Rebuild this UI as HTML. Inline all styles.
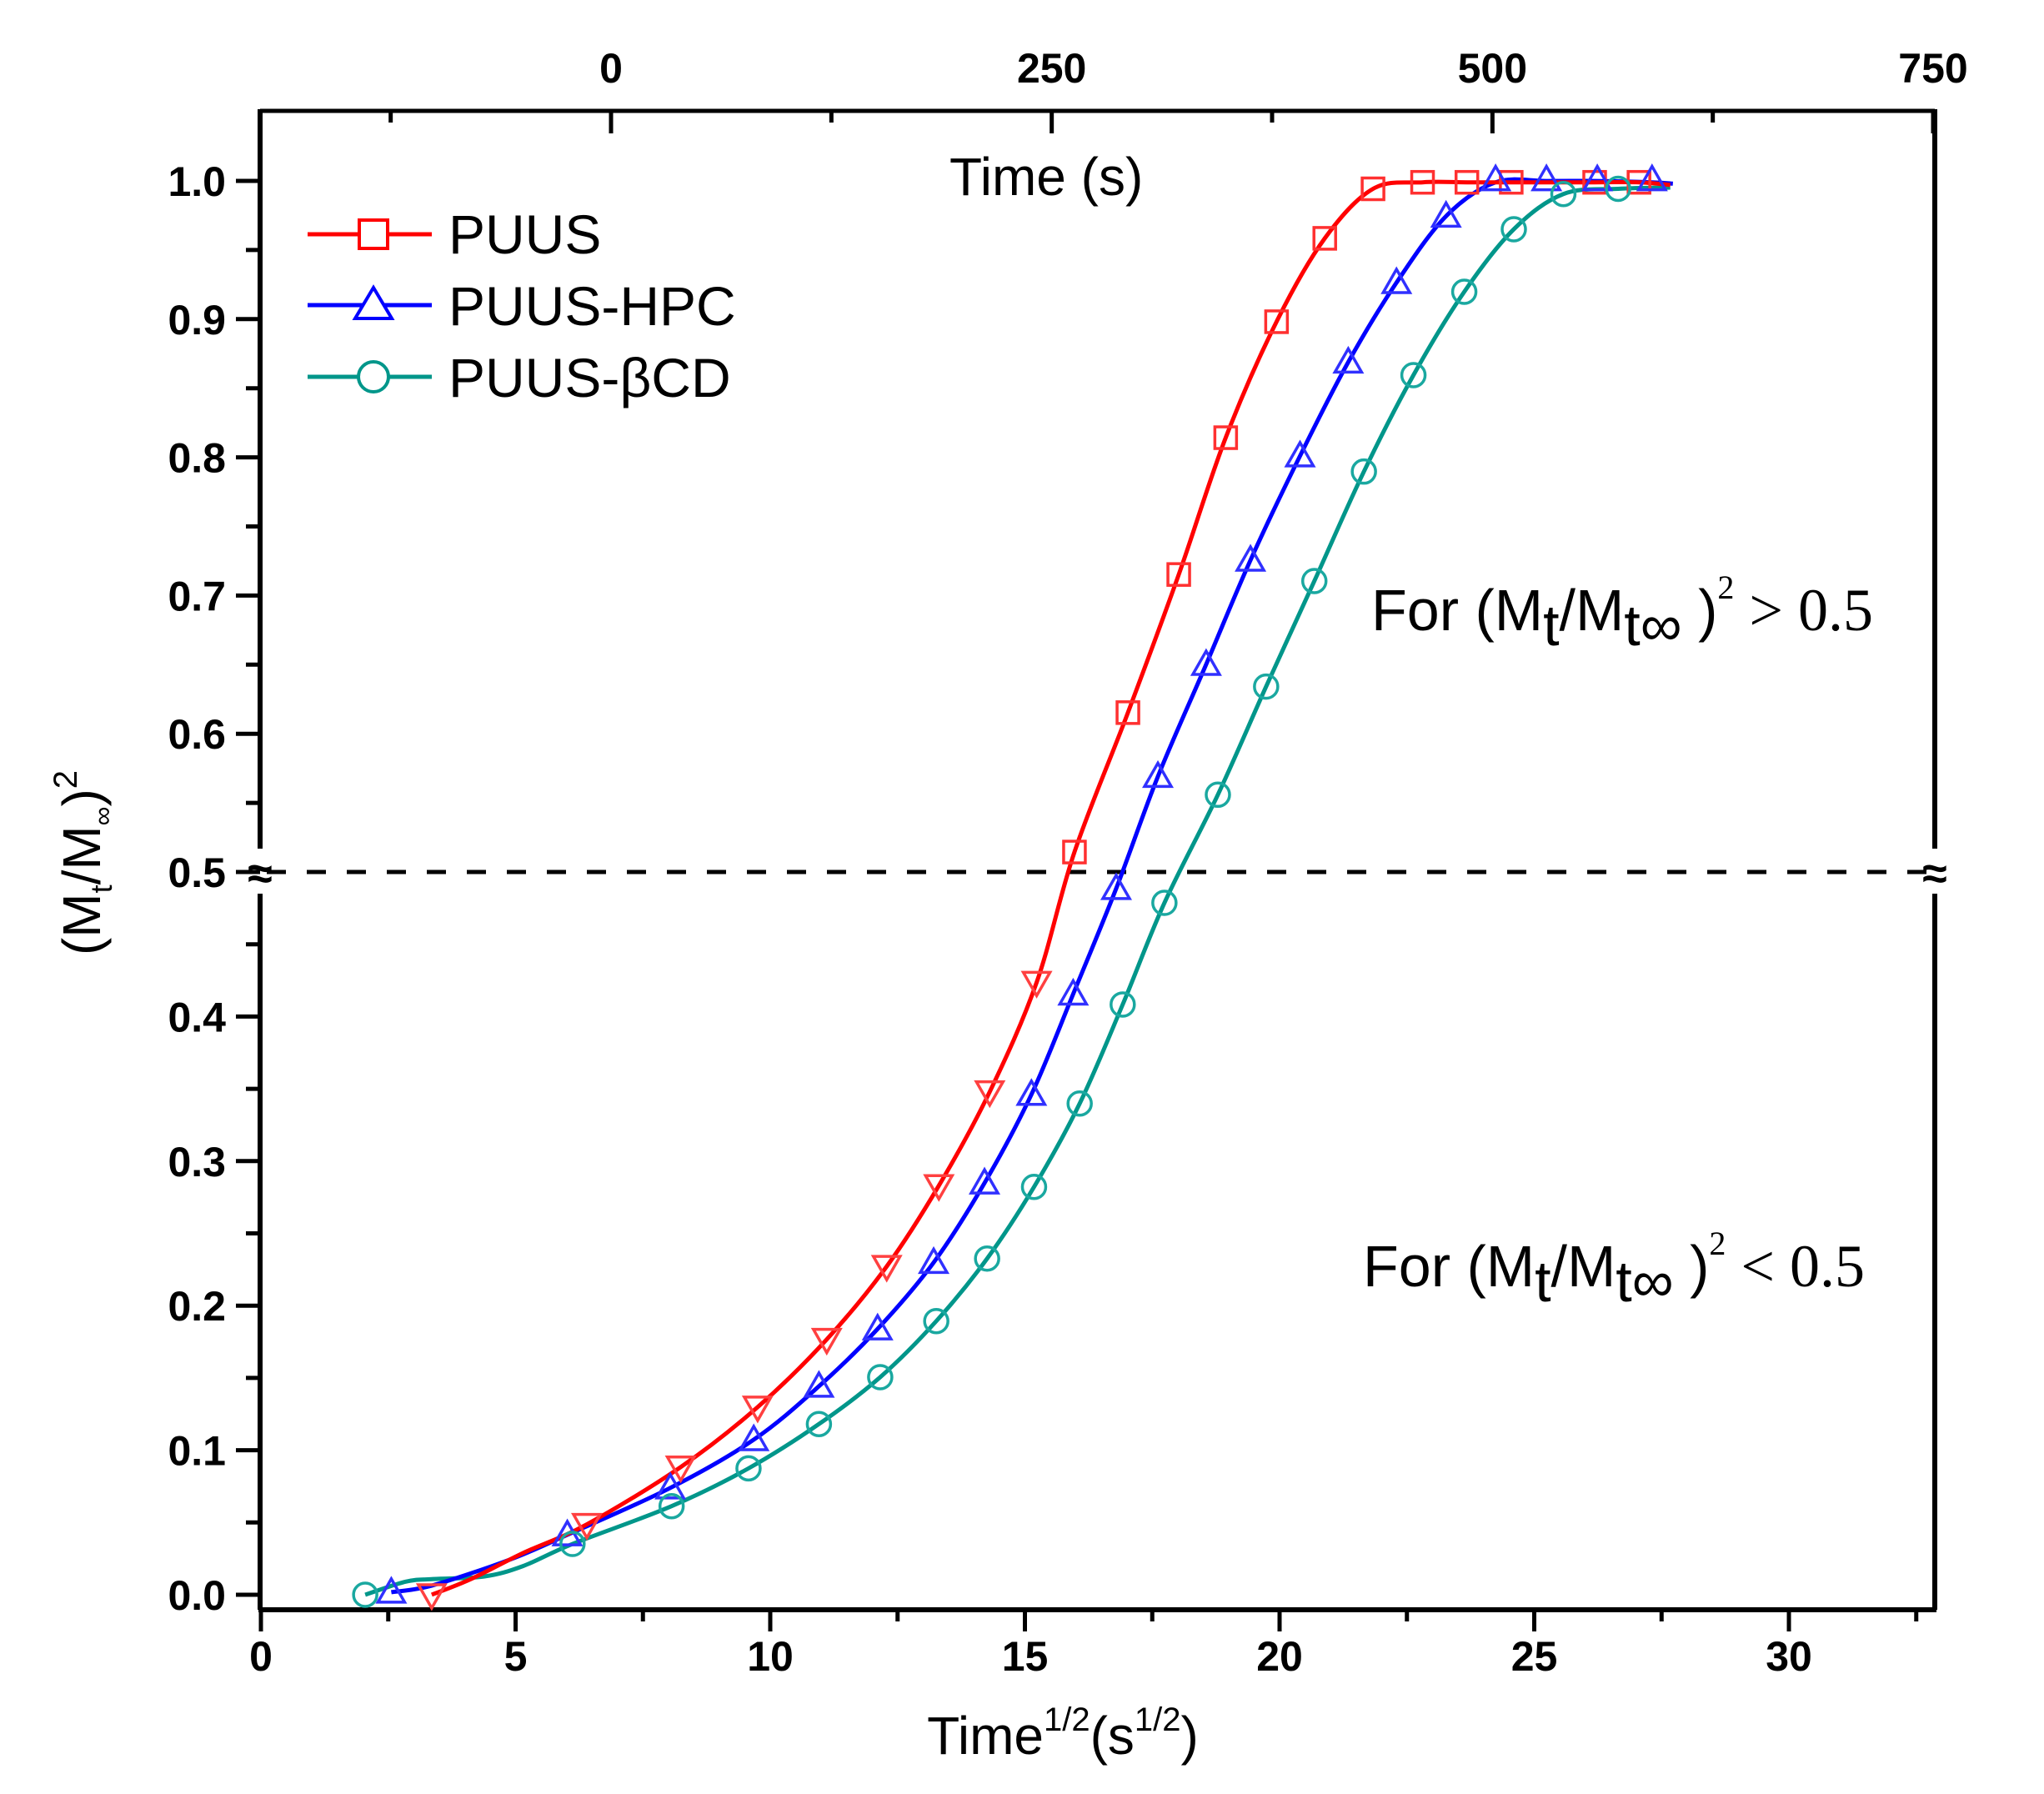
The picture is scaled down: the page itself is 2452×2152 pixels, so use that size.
<!DOCTYPE html>
<html><head><meta charset="utf-8"><style>
html,body{margin:0;padding:0;background:#fff}
svg{display:block}
text{font-family:"Liberation Sans",Arial,sans-serif}
</style></head><body>
<svg id="s" width="2452" height="2152" viewBox="0 0 2452 2152" xmlns="http://www.w3.org/2000/svg">
<rect width="2452" height="2152" fill="#fff"/>
<g id="g"></g>
<text x="1275" y="2104" font-size="64" text-anchor="middle">Time<tspan font-size="40" dy="-28">1/2</tspan><tspan dy="28">(s</tspan><tspan font-size="40" dy="-28">1/2</tspan><tspan dy="28">)</tspan></text>
<text x="1139" y="234" font-size="64">Time (s)</text>
<g transform="translate(120,1035) rotate(-90)"><text x="0" y="0" font-size="64" text-anchor="middle">(M<tspan font-size="36" dy="14">t</tspan><tspan dy="-14">/M</tspan><tspan font-size="32" dy="14">∞</tspan><tspan dy="-14">)</tspan><tspan font-size="40" dy="-28">2</tspan></text></g>
<text x="538" y="304" font-size="66">PUUS</text>
<text x="538" y="390" font-size="66">PUUS-HPC</text>
<text x="538" y="476" font-size="66">PUUS-βCD</text>
<text x="1645" y="756" font-size="70">For (M<tspan dy="18">t</tspan><tspan dy="-18">/M</tspan><tspan dy="18">t∞</tspan><tspan dy="-18"> )</tspan><tspan font-family="Liberation Serif,serif" font-size="40" dy="-38">2</tspan><tspan font-family="Liberation Serif,serif" font-size="72" dy="38"> &gt; 0.5</tspan></text>
<text x="1635" y="1543" font-size="70">For (M<tspan dy="18">t</tspan><tspan dy="-18">/M</tspan><tspan dy="18">t∞</tspan><tspan dy="-18"> )</tspan><tspan font-family="Liberation Serif,serif" font-size="40" dy="-38">2</tspan><tspan font-family="Liberation Serif,serif" font-size="72" dy="38"> &lt; 0.5</tspan></text>
</svg>
<script>
const NS="http://www.w3.org/2000/svg",g=document.getElementById('g');
function el(t,a,p){const e=document.createElementNS(NS,t);for(const k in a)e.setAttribute(k,a[k]);(p||g).appendChild(e);return e;}
const L=312,R=2321,T=133,B=1931;
function yv(v){return v>=0.5?1046-(v-0.5)*1658:1046+(0.5-v)*1734;}
function xv(v){return 313+v*61.1;}
el('line',{x1:L,y1:T,x2:R,y2:T,stroke:'#000','stroke-width':5});
el('line',{x1:L-2,y1:B,x2:R+2,y2:B,stroke:'#000','stroke-width':6});
el('line',{x1:L,y1:T-2,x2:L,y2:1018,stroke:'#000','stroke-width':6});
el('line',{x1:L,y1:1072,x2:L,y2:B,stroke:'#000','stroke-width':6});
el('line',{x1:R,y1:T-2,x2:R,y2:1018,stroke:'#000','stroke-width':6});
el('line',{x1:R,y1:1072,x2:R,y2:B,stroke:'#000','stroke-width':6});
[L,R].forEach(x=>{const t=el('text',{x:x,y:1066,'font-size':54,'text-anchor':'middle','font-weight':'bold'});t.textContent='≈';});
el('line',{x1:L+8,y1:1046,x2:R-8,y2:1046,stroke:'#000','stroke-width':5,'stroke-dasharray':'23 25'});
for(let i=0;i<=20;i++){const v=i*0.05,y=yv(v),maj=i%2==0;
 el('line',{x1:L-(maj?29:17),y1:y,x2:L,y2:y,stroke:'#000','stroke-width':5});
 if(maj){const t=el('text',{x:271,y:y+18,'font-size':50,'font-weight':'bold','text-anchor':'end'});t.textContent=(v).toFixed(1);}}
for(let i=0;i<=13;i++){const v=i*2.5,x=xv(v),maj=i%2==0;
 el('line',{x1:x,y1:B,x2:x,y2:B+(maj?26:14),stroke:'#000','stroke-width':5});
 if(maj){const t=el('text',{x:x,y:2004,'font-size':50,'font-weight':'bold','text-anchor':'middle'});t.textContent=v;}}
const tx=v=>733+v*(2319-733)/750;
for(let i=-1;i<=6;i++){const v=i*125,x=tx(v),maj=i%2==0;
 el('line',{x1:x,y1:T,x2:x,y2:T+(maj?27:14),stroke:'#000','stroke-width':5});
 if(maj){const t=el('text',{x:x,y:99,'font-size':50,'font-weight':'bold','text-anchor':'middle'});t.textContent=v;}}
const X=d=>313+(d-199)*1.564, Y=d=>1.563*d+3;
const red=[[330,1222],[360,1210],[400,1190],[449,1168],[521,1124],[580,1078],[633,1026],[679,970],[719,908],[758,836],[794,752],[823,652],[864,545],[903,439],[939,334],[978,245],[1015,181],[1052,143],[1090,138],[1124,138],[1158,138],[1222,138],[1256,138],[1280,140]];
const blue=[[299,1220],[330,1215],[390,1195],[434,1176],[513,1140],[577,1103],[627,1062],[672,1018],[715,967],[754,906],[790,838],[822,761],[855,680],[887,594],[924,508],[958,428],[996,348],[1033,276],[1070,215],[1108,164],[1146,138],[1185,137],[1224,137],[1266,138],[1282,139]];
const teal=[[279,1222],[310,1212],[330,1210],[370,1208],[400,1200],[438,1183],[514,1154],[573,1125],[627,1091],[674,1055],[717,1012],[756,964],[792,909],[827,845],[860,769],[892,691],[933,608],[970,525],[1007,444],[1045,360],[1083,286],[1122,222],[1160,174],[1198,147],[1240,143],[1280,142]];
function path(pts,c){const P=pts.map(p=>[X(p[0]),Y(p[1])]);let d=`M${P[0][0]},${P[0][1]}`;
 for(let i=0;i<P.length-1;i++){const p0=P[Math.max(i-1,0)],p1=P[i],p2=P[i+1],p3=P[Math.min(i+2,P.length-1)];
  d+=` C${p1[0]+(p2[0]-p0[0])/6},${p1[1]+(p2[1]-p0[1])/6} ${p2[0]-(p3[0]-p1[0])/6},${p2[1]-(p3[1]-p1[1])/6} ${p2[0]},${p2[1]}`;}
 el('path',{d:d,fill:'none',stroke:c,'stroke-width':5});}
path(teal,'#00968a');path(blue,'#0000ff');path(red,'#ff0000');
function sq(x,y,c){el('rect',{x:x-13,y:y-13,width:26,height:26,fill:'none',stroke:c,'stroke-width':3.5});}
function tri(x,y,c,down){const s=down?-1:1;el('polygon',{points:`${x},${y-16*s} ${x-16},${y+12*s} ${x+16},${y+12*s}`,fill:'none',stroke:c,'stroke-width':3.5});}
function cir(x,y,c){el('circle',{cx:x,cy:y,r:14,fill:'none',stroke:c,'stroke-width':3.5});}
[[330,1222],[449,1168],[521,1124],[580,1078],[633,1026],[679,970],[719,908],[758,836],[794,752]].forEach(p=>tri(X(p[0]),Y(p[1]),'#ff4040',true));
[[823,652],[864,545],[903,439],[939,334],[978,245],[1015,181],[1052,143],[1090,138],[1124,138],[1158,138],[1222,138],[1256,138]].forEach(p=>sq(X(p[0]),Y(p[1]),'#ff3030'));
[[299,1220],[434,1176],[513,1140],[577,1103],[627,1062],[672,1018],[715,967],[754,906],[790,838],[822,761],[855,680],[887,594],[924,508],[958,428],[996,348],[1033,276],[1070,215],[1108,164],[1146,136],[1185,136],[1224,136],[1266,136]].forEach(p=>tri(X(p[0]),Y(p[1]),'#3030ff',false));
[[279,1222],[438,1183],[514,1154],[573,1125],[627,1091],[674,1055],[717,1012],[756,964],[792,909],[827,845],[860,769],[892,691],[933,608],[970,525],[1007,444],[1045,360],[1083,286],[1122,222],[1160,174],[1198,147],[1240,143]].forEach(p=>cir(X(p[0]),Y(p[1]),'#1aa8a0'));
const rows=[[281,'#ff0000'],[366,'#0000ff'],[452,'#00968a']];
rows.forEach((r,i)=>{el('line',{x1:369,y1:r[0],x2:518,y2:r[0],stroke:r[1],'stroke-width':5});
 if(i==0){el('rect',{x:431,y:r[0]-17,width:34,height:34,fill:'#fff',stroke:r[1],'stroke-width':4});}
 if(i==1){el('polygon',{points:`448,${r[0]-21} 426,${r[0]+16} 470,${r[0]+16}`,fill:'#fff',stroke:r[1],'stroke-width':4});}
 if(i==2){el('circle',{cx:448,cy:r[0],r:18,fill:'#fff',stroke:r[1],'stroke-width':4});}});
</script>
</body></html>
